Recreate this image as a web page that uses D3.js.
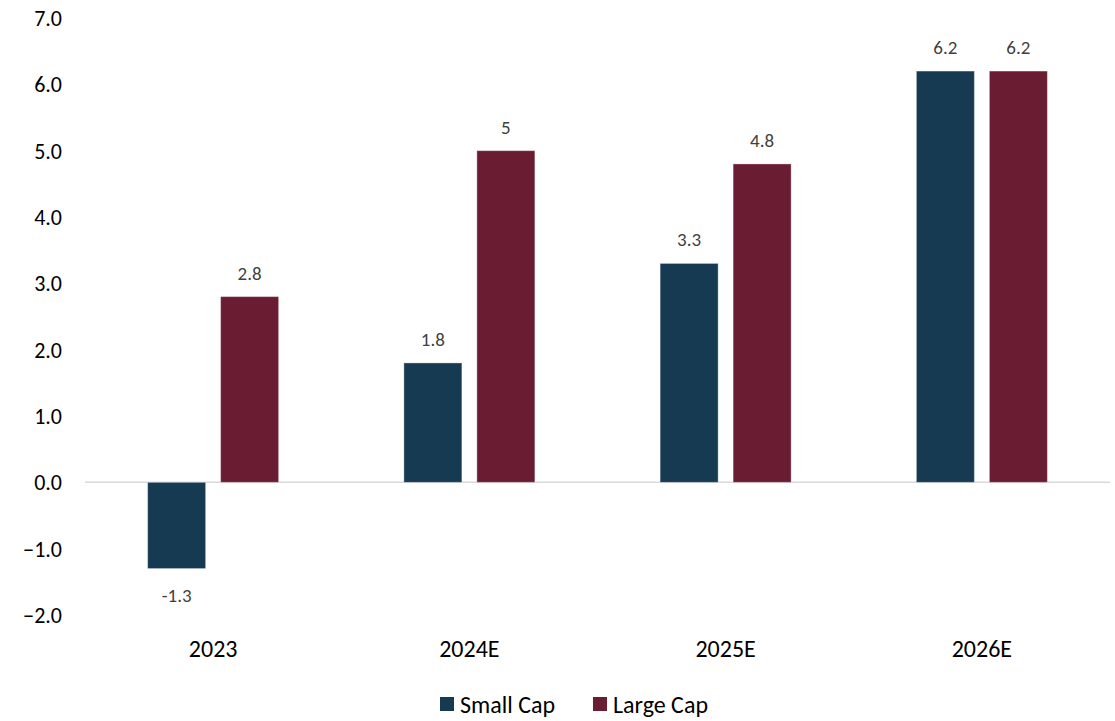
<!DOCTYPE html>
<html>
<head>
<meta charset="utf-8">
<script src="https://cdn.jsdelivr.net/npm/d3@7"></script>
<style>
  body { margin: 0; background: #fff; }
  text { font-family: Carlito, Lato, "Open Sans", sans-serif; }
</style>
</head>
<body>
<div id="plot"></div>
<script>
var categories = ["2023", "2024E", "2025E", "2026E"];
var series = ["Small Cap", "Large Cap"];
var smallCap = [-1.3, 1.8, 3.3, 6.2];
var largeCap = [2.8, 5, 4.8, 6.2];
var labelsSmall = ["-1.3", "1.8", "3.3", "6.2"];
var labelsLarge = ["2.8", "5", "4.8", "6.2"];
var yTicks = [-2, -1, 0, 1, 2, 3, 4, 5, 6, 7];
var colors = ["#163a52", "#6a1c32"];

var width = 1115, height = 721;
var svg = d3.select("#plot").append("svg")
	.attr("width", width)
	.attr("height", height);

var x = d3.scaleBand().domain(categories).range([85, 1110]);
var y = d3.scaleLinear().domain([-2, 7]).range([615, 18]);
var barW = 58, gap = 15;

// y tick labels
svg.append("g")
	.selectAll("text")
	.data(yTicks)
	.enter().append("text")
	.attr("x", 62)
	.attr("y", function(d) { return y(d); })
	.attr("dy", "0.36em")
	.attr("text-anchor", "end")
	.style("font-size", "22px")
	.style("fill", "#000")
	.text(function(d) { return d3.format(".1f")(d); });

// zero line
svg.append("line")
	.attr("x1", 85).attr("x2", 1110)
	.attr("y1", y(0)).attr("y2", y(0))
	.attr("stroke", "#d9d9d9")
	.attr("stroke-width", 1.5);

var data = [smallCap, largeCap];
var labels = [labelsSmall, labelsLarge];

data.forEach(function(vals, s) {
	var offset = s == 0 ? -(barW + gap / 2) : gap / 2;
	var g = svg.append("g");
	g.selectAll("rect")
		.data(vals)
		.enter().append("rect")
		.attr("x", function(d, i) { return x(categories[i]) + x.bandwidth() / 2 + offset; })
		.attr("y", function(d) { return y(Math.max(0, d)); })
		.attr("width", barW)
		.attr("height", function(d) { return Math.abs(y(d) - y(0)); })
		.attr("fill", colors[s])
		.attr("stroke", "#ffffff")
		.attr("stroke-opacity", 0.35)
		.attr("stroke-width", 1);

	g.selectAll("text")
		.data(vals)
		.enter().append("text")
		.attr("x", function(d, i) { return x(categories[i]) + x.bandwidth() / 2 + offset + barW / 2; })
		.attr("y", function(d) { return d >= 0 ? y(d) - 17 : y(d) + 33; })
		.attr("text-anchor", "middle")
		.style("font-size", "19px")
		.style("fill", "#404040")
		.text(function(d, i) { return labels[s][i]; });
});

// category labels
svg.append("g")
	.selectAll("text")
	.data(categories)
	.enter().append("text")
	.attr("x", function(d) { return x(d) + x.bandwidth() / 2; })
	.attr("y", 657)
	.attr("text-anchor", "middle")
	.style("font-size", "24px")
	.style("fill", "#000")
	.text(function(d) { return d; });

// legend
var legendX = [440, 593];
var legend = svg.append("g")
	.selectAll("g")
	.data(series)
	.enter().append("g")
	.attr("transform", function(d, i) { return "translate(" + legendX[i] + ",697)"; });
legend.append("rect")
	.attr("width", 14).attr("height", 14)
	.attr("fill", function(d, i) { return colors[i]; });
legend.append("text")
	.attr("x", 20).attr("y", 7)
	.attr("dy", "0.36em")
	.style("font-size", "24px")
	.style("fill", "#000")
	.text(function(d) { return d; });
</script>
</body>
</html>
